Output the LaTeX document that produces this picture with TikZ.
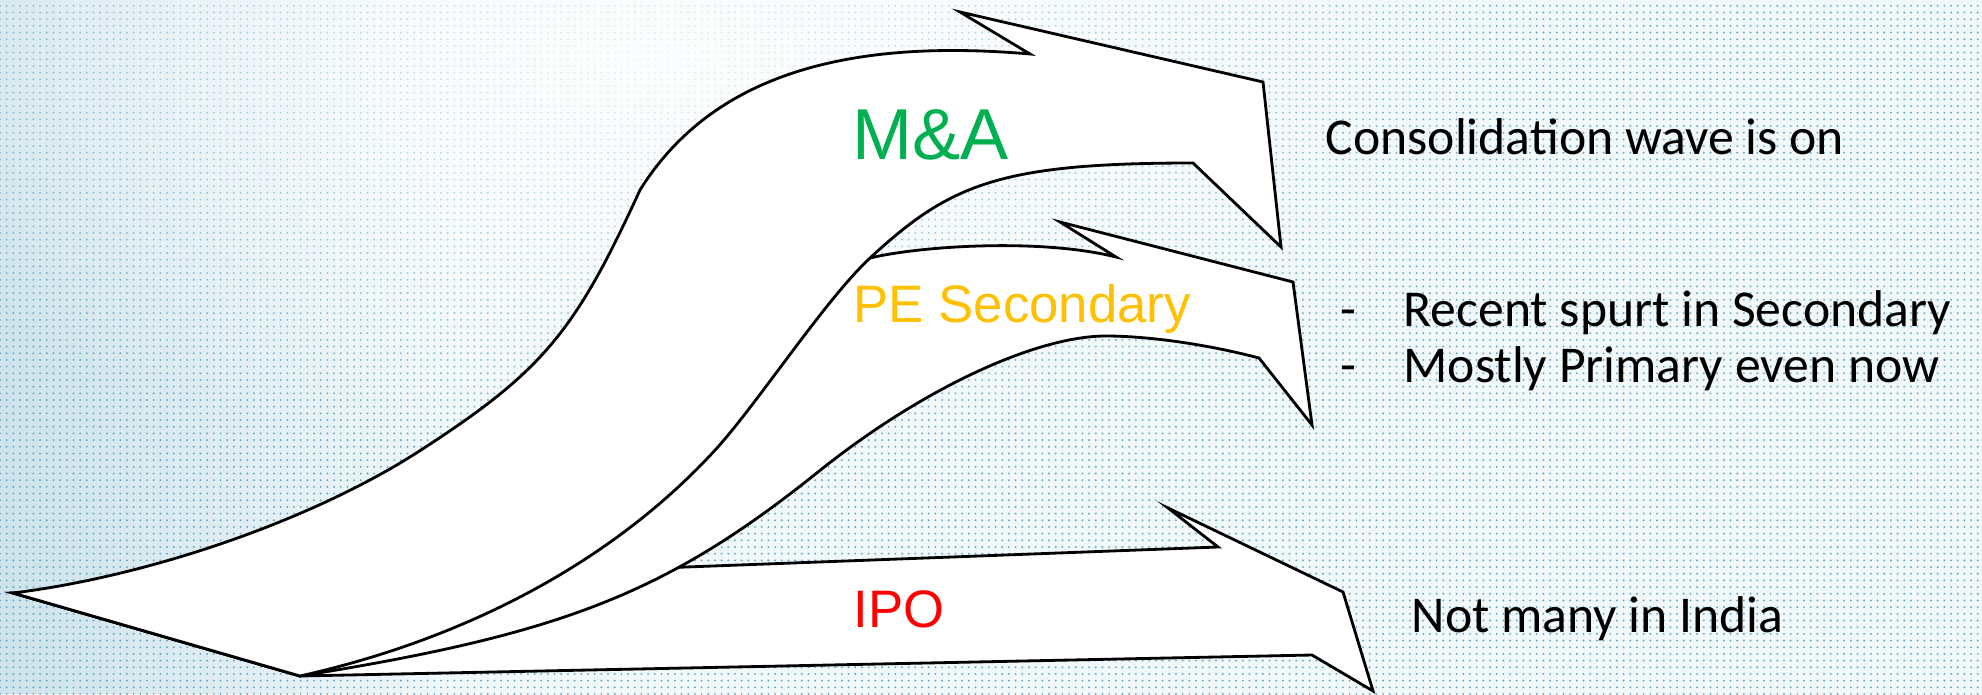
\documentclass[tikz,border=0pt]{standalone}
\usepackage{fontspec}
\setmainfont{Carlito}
\newfontfamily\arialfont{Liberation Sans}
\usetikzlibrary{patterns.meta, fadings}

\definecolor{magreen}{RGB}{0,176,80}
\definecolor{peyellow}{RGB}{255,192,0}
\definecolor{ipored}{RGB}{255,0,0}
\definecolor{bgbase}{RGB}{240,248,250}
\definecolor{bgdot}{RGB}{105,165,192}

\tikzfading[name=glow, inner color=transparent!0, outer color=transparent!100]

\begin{document}
\begin{tikzpicture}[x=0.01cm, y=-0.01cm,
  wave/.style={draw=black, fill=white, line width=0.8pt, line join=miter},
  tag/.style={anchor=base west, inner sep=0pt},
  note/.style={font=\fontsize{14.7}{17}\selectfont, anchor=base west, inner sep=0pt}]

\useasboundingbox (0,0) rectangle (1982,694);
\fill[bgbase] (0,0) rectangle (1982,694);
\fill[pattern={Dots[distance=1.9pt, radius=0.3pt]}, pattern color=bgdot] (0,0) rectangle (1982,694);
\fill[bgdot, path fading=east, opacity=0.25] (0,0) rectangle (450,694);
\fill[white, path fading=glow, opacity=0.85] (650,60) ellipse [x radius=9cm, y radius=4cm];

\coordinate (t1) at (13,593);
\coordinate (t2) at (300,676);

\coordinate (i1) at (686,567);
\coordinate (i2) at (1218,547);
\coordinate (i3) at (1168,508);
\coordinate (i4) at (1343,592);
\coordinate (i5) at (1373,691);
\coordinate (i6) at (1312,655);

\coordinate (s1) at (870,258);
\coordinate (s2) at (1116,257);
\coordinate (s3) at (1060,222);
\coordinate (s4) at (1293,282);
\coordinate (s5) at (1312,425);
\coordinate (s6) at (1259,358);
\coordinate (s7) at (1106,336);
\coordinate (s8) at (818,472);

\coordinate (a1) at (1030,54);
\coordinate (a2) at (960,12);
\coordinate (a3) at (1263,82);
\coordinate (a4) at (1281,247);
\coordinate (a5) at (1193,163);
\coordinate (a6) at (421,450);
\coordinate (a7) at (640,190);
\coordinate (a8) at (717,448);

\draw[wave] (t1) -- (i1) -- (i2) -- (i3) -- (i4) -- (i5) -- (i6) -- (t2) -- cycle;

\draw[wave] (t1) .. controls (300,580) and (650,360) .. (s1)
  .. controls (920,246) and (1040,238) .. (s2)
  -- (s3) -- (s4) -- (s5) -- (s6)
  .. controls (1210,345) and (1150,336) .. (s7)
  .. controls (1035,336) and (920,390) .. (s8)
  .. controls (667,593) and (563,634) .. (t2) -- cycle;

\draw[wave] (t1) .. controls (151,576) and (315,519) .. (a6)
  .. controls (543,371) and (575,332) .. (a7)
  .. controls (715,70) and (856,39) .. (a1)
  -- (a2) -- (a3) -- (a4) -- (a5)
  .. controls (1000,163) and (950,184) .. (s1)
  .. controls (825,300) and (760,400) .. (a8)
  .. controls (616,559) and (470,638) .. (t2) -- cycle;

\node[tag, text=magreen, font=\arialfont\fontsize{20.5}{24}\selectfont] (ma) at (852,159) {M\&A};
\node[tag, text=peyellow, font=\arialfont\fontsize{15}{18}\selectfont] (pe) at (853,322) {PE Secondary};
\node[tag, text=ipored, font=\arialfont\fontsize{15}{18}\selectfont] (ipo) at (853,627) {IPO};

\node[note] (n1) at (1325,154) {Consolidation wave is on};
\node[note] (d1) at (1340,326) {-};
\node[note] (n2) at (1403,326) {Recent spurt in Secondary};
\node[note] (d2) at (1340,382) {-};
\node[note] (n3) at (1403,382) {Mostly Primary even now};
\node[note] (n4) at (1411,632) {Not many in India};

\end{tikzpicture}
\end{document}
